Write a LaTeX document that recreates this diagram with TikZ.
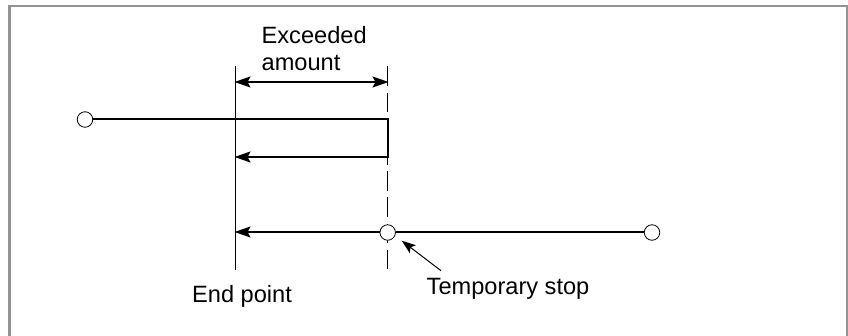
\documentclass[tikz,border=0pt]{standalone}
\usepackage{fontspec}
\setmainfont{Liberation Sans}
\usetikzlibrary{arrows.meta}

\begin{document}
\begin{tikzpicture}[x=1pt,y=-1pt]
\tikzset{endmark/.style={circle,draw,fill=white,inner sep=0pt,minimum size=15.5pt,line width=0.8pt}}
\tikzset{label text/.style={font=\fontsize{23.6}{27}\selectfont,align=left,inner sep=0pt}}
\tikzset{path line/.style={line width=2pt}}
\tikzset{thin line/.style={line width=1pt}}
\tikzset{tip/.style={-{Stealth[length=16pt,width=11pt,inset=3pt]}}}

\useasboundingbox (0,0) rectangle (848,336);
\draw[line width=2.6pt,color=gray!85] (9.5,336) -- (9.5,6) -- (847,6) -- (847,336);

\coordinate (endtop) at (235.5,66.5);
\coordinate (endbot) at (235.5,270);
\coordinate (stoptop) at (387.5,66.5);
\coordinate (stopbot) at (387.5,270);
\coordinate (turntop) at (387.5,119);
\coordinate (turnbot) at (387.5,157);
\coordinate (returnend) at (234.5,157);
\coordinate (finalend) at (234.5,232);
\coordinate (amountleft) at (234.5,82);
\coordinate (amountright) at (388.5,82);
\coordinate (leaderfrom) at (441,270.7);
\coordinate (leaderto) at (401.7,240.7);

\draw[thin line] (endtop) -- (endbot);
\draw[thin line,dash pattern=on 19.5pt off 6.7pt] (stoptop) -- (stopbot);

\node[endmark] (start) at (85,119.5) {};
\node[endmark] (stop) at (387.7,232.5) {};
\node[endmark] (last) at (652,232.5) {};

\draw[path line,line cap=rect] (start.east |- turntop) -- (turntop) -- (turnbot);
\draw[path line,tip] (turnbot) -- (returnend);
\draw[path line,tip] (stop.west |- finalend) -- (finalend);
\draw[path line] (stop.east |- finalend) -- (last.west |- finalend);
\draw[path line,{Stealth[length=16pt,width=11pt,inset=3pt]}-{Stealth[length=16pt,width=11pt,inset=3pt]}] (amountleft) -- (amountright);
\draw[thin line,-{Stealth[length=14pt,width=10pt,inset=3pt]}] (leaderfrom) -- (leaderto);

\node[label text,anchor=north west] (amount) at (261.5,26.5) {Exceeded\\amount};
\node[label text,anchor=base west] (stoptext) at (426.5,295) {Temporary stop};
\node[label text,anchor=base west] (endtext) at (192,303) {End point};
\end{tikzpicture}
\end{document}
